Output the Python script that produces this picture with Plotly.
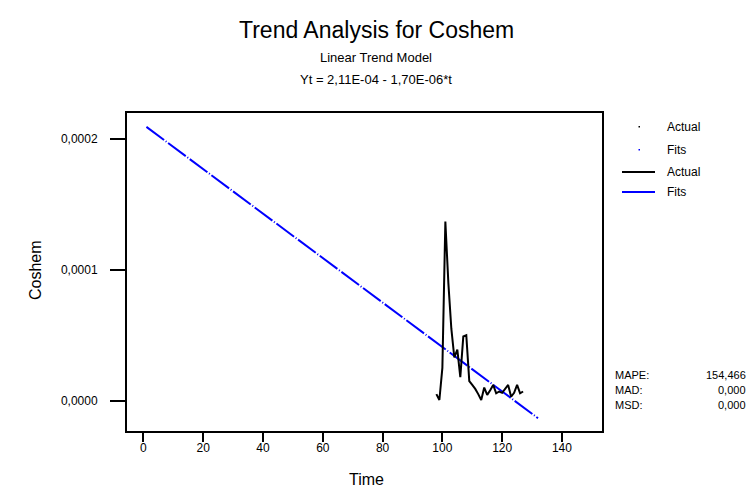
import plotly.graph_objects as go

# ---------------- data ----------------
time_actual = list(range(98, 128))
actual = [5.0e-6, 0.5e-6, 2.5e-5, 1.37e-4, 9.0e-5, 5.5e-5, 3.3e-5, 3.9e-5, 1.8e-5, 4.9e-5,
          5.0e-5, 1.5e-5, 1.2e-5, 9.0e-6, 5.0e-6, 0.5e-6, 1.0e-5, 4.4e-6, 8.0e-6, 1.2e-5,
          5.6e-6, 7.0e-6, 6.0e-6, 9.0e-6, 1.2e-5, 3.0e-6, 6.0e-6, 1.2e-5, 5.6e-6, 7.0e-6]
time_fits = [1, 132]
fits = [2.093e-4, -1.34e-5]

x_ticks = [0, 20, 40, 60, 80, 100, 120, 140]
y_ticks = [0.0, 0.0001, 0.0002]

title = "Trend Analysis for Coshem"
subtitle1 = "Linear Trend Model"
subtitle2 = "Yt = 2,11E-04 - 1,70E-06*t"
legend_labels = ["Actual", "Fits", "Actual", "Fits"]
stat_names = ["MAPE:", "MAD:", "MSD:"]
stat_values = ["154,466", "0,000", "0,000"]

# ---------------- layout geometry (pixels) ----------------
W, H = 753, 495
L, R, T, B = 127, 602, 113, 431
FONT = "Liberation Sans, Arial, sans-serif"


def px(x):
    return (x - L) / (R - L)


def py(y):
    return (B - y) / (B - T)


fig = go.Figure()
fig.add_trace(go.Scatter(x=time_fits, y=fits, mode="lines",
                         line=dict(color="#0000ff", width=2, dash="22px,2px,1px,2px"),
                         showlegend=False))
fig.add_trace(go.Scatter(x=time_actual, y=actual, mode="lines",
                         line=dict(color="black", width=2), showlegend=False))

annotations = [
    dict(text=title, x=px(376), y=py(30), font=dict(size=23)),
    dict(text=subtitle1, x=px(376), y=py(57), font=dict(size=13)),
    dict(text=subtitle2, x=px(376), y=py(80), font=dict(size=13)),
    dict(text="Time", x=px(366), y=py(479), font=dict(size=16)),
    dict(text="Coshem", x=px(35), y=py(270), font=dict(size=16), textangle=-90),
]
for a in annotations:
    a.update(xref="paper", yref="paper", showarrow=False, xanchor="center", yanchor="middle")

shapes = []
leg_y = [127, 150, 172, 192]
leg_colors = ["black", "#0000ff", "black", "#0000ff"]
for i, (lab, yy, col) in enumerate(zip(legend_labels, leg_y, leg_colors)):
    annotations.append(dict(text=lab, x=px(665), y=py(yy), xref="paper", yref="paper",
                            showarrow=False, xanchor="left", yanchor="middle",
                            font=dict(size=12)))
    if i < 2:
        shapes.append(dict(type="rect", xref="paper", yref="paper",
                           x0=px(638.5), x1=px(640), y0=py(yy + 0.5), y1=py(yy - 1),
                           fillcolor=col, line=dict(width=0)))
    else:
        shapes.append(dict(type="line", xref="paper", yref="paper",
                           x0=px(622), x1=px(655), y0=py(yy), y1=py(yy),
                           line=dict(color=col, width=2)))

stat_y = [375, 390, 405]
for nm, val, yy in zip(stat_names, stat_values, stat_y):
    annotations.append(dict(text=nm, x=px(613), y=py(yy), xref="paper", yref="paper",
                            showarrow=False, xanchor="left", yanchor="middle",
                            font=dict(size=11)))
    annotations.append(dict(text=val, x=px(748), y=py(yy), xref="paper", yref="paper",
                            showarrow=False, xanchor="right", yanchor="middle",
                            font=dict(size=11)))

fig.update_layout(
    width=W, height=H,
    margin=dict(l=L, r=W - R, t=T, b=H - B),
    paper_bgcolor="white", plot_bgcolor="white",
    font=dict(family=FONT, color="black", size=12),
    separators=",.",
    showlegend=False,
    annotations=annotations,
    shapes=shapes,
    xaxis=dict(range=[-5.5, 153.4], tickvals=x_ticks, ticks="outside", ticklen=9,
               tickwidth=2, tickcolor="black", showline=True, linecolor="black",
               linewidth=2, mirror=True, showgrid=False, zeroline=False,
               tickfont=dict(size=12), ticklabelstandoff=-4),
    yaxis=dict(range=[-0.0000232, 0.0002199], tickvals=y_ticks, tickformat=".4f",
               ticks="outside", ticklen=15, tickwidth=2, tickcolor="black",
               showline=True, linecolor="black", linewidth=2, mirror=True,
               showgrid=False, zeroline=False, tickfont=dict(size=12),
               ticklabelstandoff=10),
)

fig.write_html("out.html")
